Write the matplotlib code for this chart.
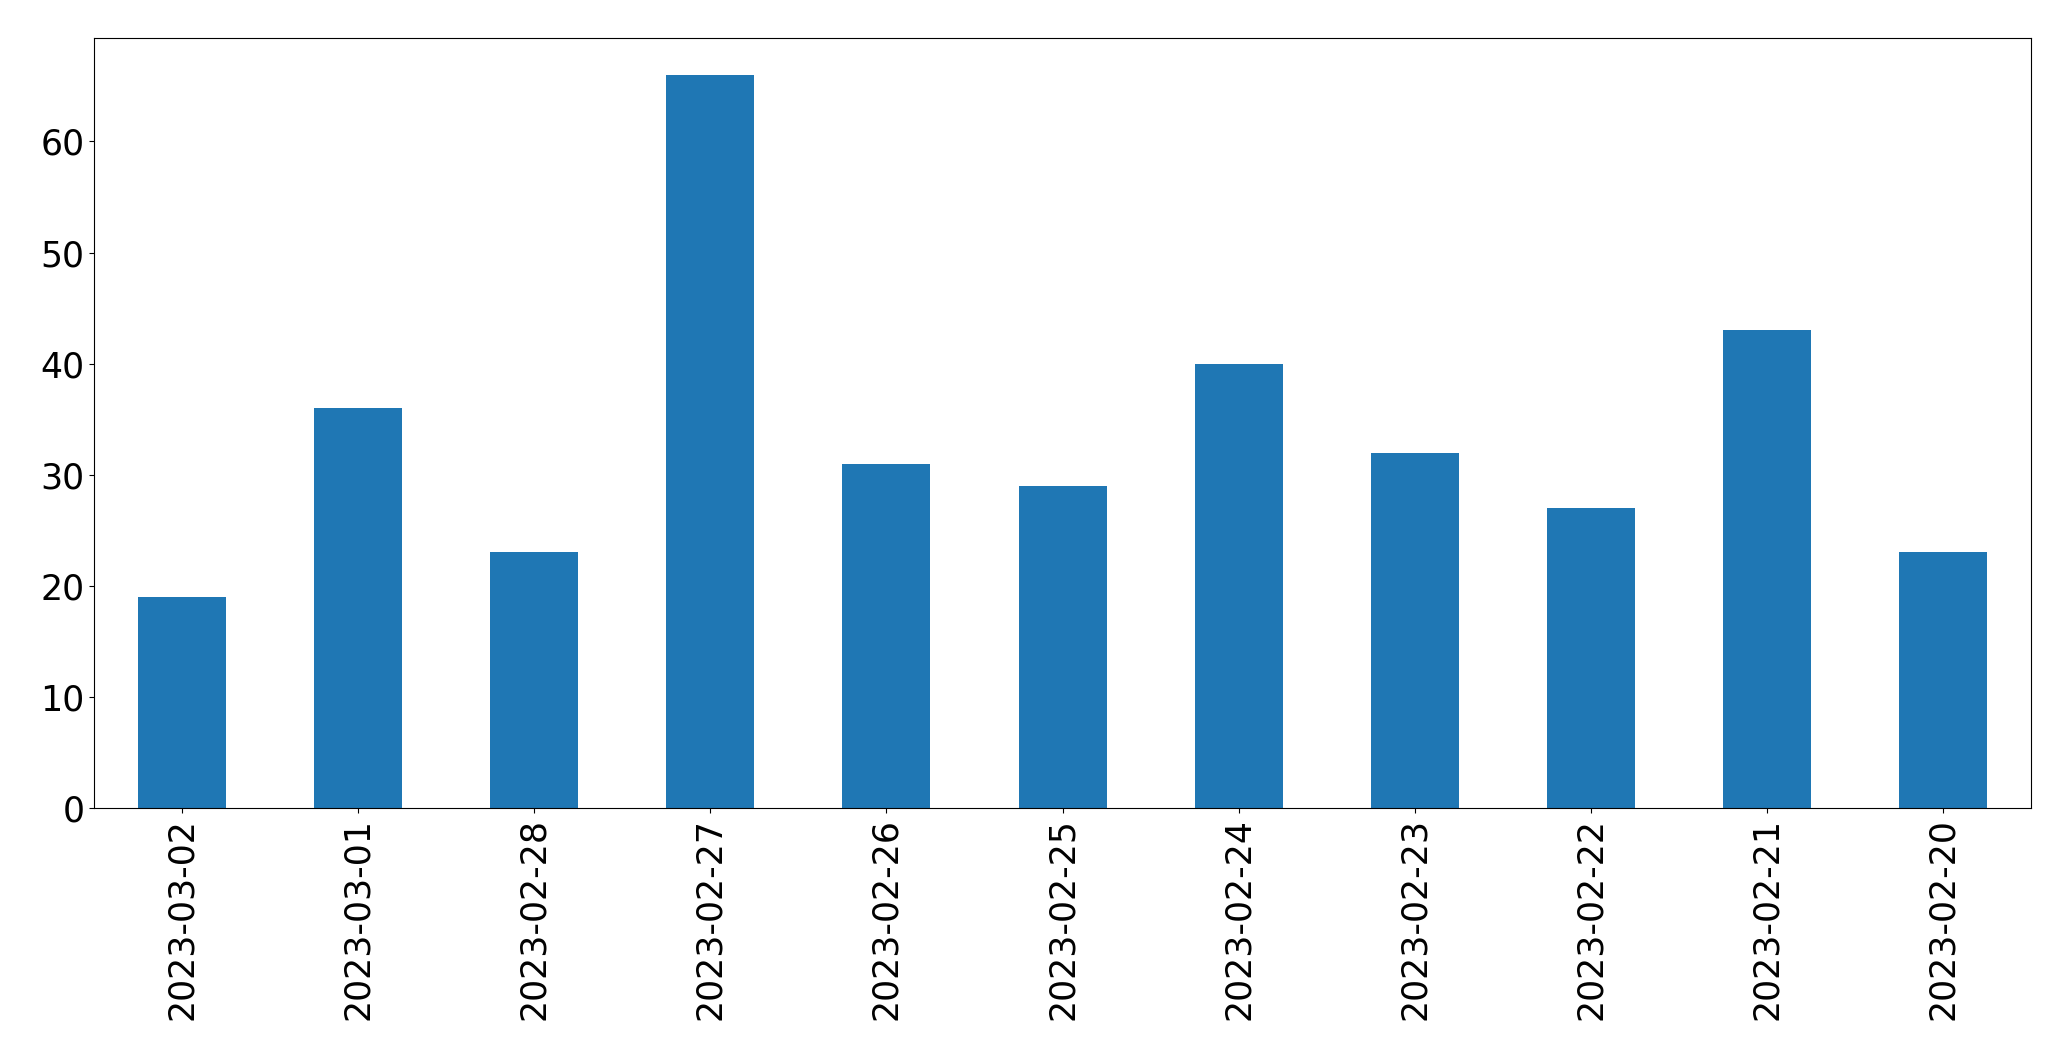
import matplotlib
matplotlib.use("Agg")
import matplotlib.pyplot as plt
import numpy as np

dates = ["2023-03-02", "2023-03-01", "2023-02-28", "2023-02-27", "2023-02-26",
         "2023-02-25", "2023-02-24", "2023-02-23", "2023-02-22", "2023-02-21",
         "2023-02-20"]
counts = [19, 36, 23, 66, 31, 29, 40, 32, 27, 43, 23]

fig = plt.figure(figsize=(20.71, 10.61), dpi=100)
ax = fig.add_subplot(111)
fig.subplots_adjust(left=0.0454, right=0.9807, top=0.9640, bottom=0.2385)

x = np.arange(len(dates))
ax.bar(x, counts, width=0.5, color="#1f77b4")
ax.set_xlim(-0.5, len(dates) - 0.5)
ax.set_ylim(0, max(counts) * 1.05)
ax.set_xticks(x)
ax.set_xticklabels(dates, rotation=90)
ax.tick_params(labelsize=25)

fig.savefig("out.png", dpi=100)
